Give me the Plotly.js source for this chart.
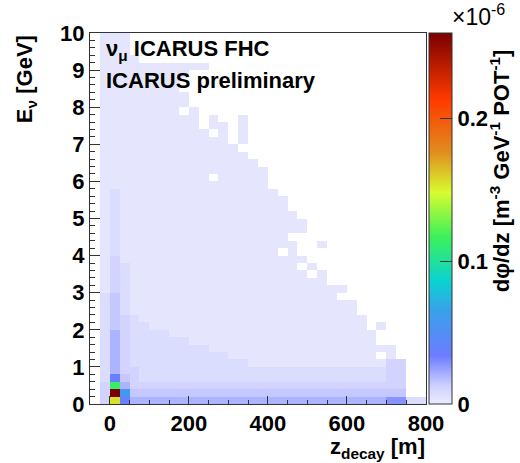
<!DOCTYPE html>
<html>
<head>
<meta charset="utf-8">
<script src="https://cdn.plot.ly/plotly-3.0.1.min.js"></script>
<style>html,body{margin:0;padding:0;background:#fff;}#chart{width:520px;height:463px;}</style>
</head>
<body>
<div id="chart"></div>
<script>
// z_decay bin centres [m] (25 m wide bins)
const zDecayBins = [-12.5, 12.5, 37.5, 62.5, 87.5, 112.5, 137.5, 162.5, 187.5, 212.5, 237.5,
  262.5, 287.5, 312.5, 337.5, 362.5, 387.5, 412.5, 437.5, 462.5, 487.5, 512.5, 537.5,
  562.5, 587.5, 612.5, 637.5, 662.5, 687.5, 712.5, 737.5, 762.5, 787.5];
// E_nu bin centres [GeV] (0.2 GeV wide bins)
const eNuBins = [0.1, 0.3, 0.5, 0.7, 0.9, 1.1, 1.3, 1.5, 1.7, 1.9, 2.1, 2.3, 2.5, 2.7, 2.9,
  3.1, 3.3, 3.5, 3.7, 3.9, 4.1, 4.3, 4.5, 4.7, 4.9, 5.1, 5.3, 5.5, 5.7, 5.9, 6.1, 6.3, 6.5,
  6.7, 6.9, 7.1, 7.3, 7.5, 7.7, 7.9, 8.1, 8.3, 8.5, 8.7, 8.9, 9.1, 9.3, 9.5, 9.7, 9.9];
// colour level codes -> dphi/dz [1e-6 m^-3 GeV^-1 POT^-1]
const levelValues = {'1': 0.003, '2': 0.007, '3': 0.011, '4': 0.015, '5': 0.020,
  '6': 0.028, '7': 0.036, '9': 0.060, 'G': 0.115, 'Y': 0.155, 'R': 0.260};
// one string per E_nu bin, top (9.8-10 GeV) to bottom (0-0.2 GeV); one char per z bin, '.' = empty
const fluxRows = [
  "111",
  "111",
  "111",
  "1111",
  "1111111111"+"1",
  "111111111",
  "11111111",
  "11111111",
  "111111111",
  "111111111",
  "11111111.1",
  "1111111111"+".1..1",
  "1111111111"+".11.1",
  "1111111111"+"1.1.1",
  "1111111111"+"111.1",
  "1111111111"+"1111",
  "1111111111"+"11111",
  "1111111111"+"111111",
  "1111111111"+"1111111",
  "1111111111"+"1.11111",
  "1111111111"+"1111111",
  "1211111111"+"11111111",
  "1211111111"+"111111111",
  "1211111111"+"111111111",
  "1211111111"+"1111111111",
  "1211111111"+"1111111111"+"1",
  "1211111111"+"1111111111"+"1",
  "1211111111"+"111111111",
  "1211111111"+"1111111111"+"..1",
  "1211111111"+"11111111.1",
  "1311111111"+"1111111111"+"1",
  "1321111111"+"1111111111"+".1",
  "1321111111"+"1111111111"+"1.1",
  "1321111111"+"1111111111"+"111",
  "1321111111"+"1111111111"+"11111",
  "2421111111"+"1111111111"+"1111",
  "2421111111"+"1111111111"+"111111",
  "2421111111"+"1111111111"+"111111",
  "2432111111"+"1111111111"+"1111111",
  "2432211111"+"1111111111"+"1111111.1",
  "2532222111"+"1111111111"+"11111111",
  "2532222221"+"1111111111"+"11111111",
  "2532222222"+"2111111111"+"1111111111",
  "2532222222"+"2221111111"+"11111111.1",
  "2532222222"+"2222211111"+"1111111113"+"3",
  "2533222222"+"2222222222"+"2222222223"+"3",
  "2743222222"+"2222222222"+"2222222223"+"3",
  "3G53333333"+"3333333333"+"3333333333"+"3",
  "3R94444444"+"4444444444"+"4444444444"+"4",
  "3Y75555555"+"5555555555"+"5555555556"+"622"
];

const zMatrix = fluxRows.slice().reverse().map(function (row) {
  const r = row.padEnd(zDecayBins.length, '.');
  return r.split('').map(function (c) { return c === '.' ? null : levelValues[c]; });
});

const FONT = 'Liberation Sans, Arial, Helvetica, sans-serif';
const bold = function (size) { return {family: FONT, size: size, color: '#000', weight: 'bold'}; };

const trace = {
  type: 'heatmap',
  x: zDecayBins,
  y: eNuBins,
  z: zMatrix,
  zmin: 0,
  zmax: 0.26,
  zsmooth: false,
  hoverongaps: false,
  colorscale: [
    [0.00, 'rgb(236,236,253)'],
    [0.05, 'rgb(205,208,255)'],
    [0.13, 'rgb(108,124,255)'],
    [0.25, 'rgb(58,160,235)'],
    [0.33, 'rgb(10,210,210)'],
    [0.45, 'rgb(60,240,90)'],
    [0.57, 'rgb(216,252,48)'],
    [0.68, 'rgb(224,140,30)'],
    [0.82, 'rgb(255,58,0)'],
    [1.00, 'rgb(122,0,0)']
  ],
  colorbar: {
    thickness: 23, thicknessmode: 'pixels',
    len: 1, lenmode: 'fraction',
    x: 1.009, xanchor: 'left', xpad: 0,
    y: 0.5, yanchor: 'middle', ypad: 0,
    outlinewidth: 1, outlinecolor: '#333',
    ticks: 'inside', ticklen: 12, tickwidth: 1, tickcolor: '#333',
    tickvals: [0, 0.1, 0.2], ticktext: ['0', '0.1', '0.2'],
    tickfont: bold(22)
  }
};

const layout = {
  width: 520, height: 463,
  margin: {l: 90, r: 94, t: 33, b: 59, pad: 0},
  paper_bgcolor: '#fff', plot_bgcolor: '#fff',
  showlegend: false,
  xaxis: {
    range: [-50, 800], tickmode: 'linear', tick0: 0, dtick: 200,
    ticks: 'inside', ticklen: 8, tickwidth: 1, tickcolor: '#333',
    minor: {tick0: 0, dtick: 50, ticks: 'inside', ticklen: 4, tickwidth: 1, tickcolor: '#333', showgrid: false},
    showline: true, linecolor: '#333', linewidth: 1, mirror: true,
    showgrid: false, zeroline: false, tickfont: bold(22)
  },
  yaxis: {
    range: [0, 10], tickmode: 'linear', tick0: 0, dtick: 1,
    ticks: 'inside', ticklen: 10, tickwidth: 1, tickcolor: '#333',
    minor: {tick0: 0, dtick: 0.2, ticks: 'inside', ticklen: 5, tickwidth: 1, tickcolor: '#333', showgrid: false},
    showline: true, linecolor: '#333', linewidth: 1, mirror: true,
    showgrid: false, zeroline: false, tickfont: bold(22)
  },
  annotations: [
    {text: 'E<sub>ν</sub> [GeV]', xref: 'paper', yref: 'paper', x: -0.19, y: 1.0,
     xanchor: 'center', yanchor: 'top', textangle: -90, showarrow: false, font: bold(22)},
    {text: 'z<sub>decay</sub> [m]', xref: 'paper', yref: 'paper', x: 1.0, y: -0.16,
     xanchor: 'right', yanchor: 'bottom', borderpad: 0, showarrow: false, font: bold(22)},
    {text: 'ν<sub>μ</sub> ICARUS FHC', xref: 'paper', yref: 'paper', x: 0.042, y: 0.955,
     xanchor: 'left', yanchor: 'middle', showarrow: false, font: bold(22)},
    {text: 'ICARUS preliminary', xref: 'paper', yref: 'paper', x: 0.042, y: 0.872,
     xanchor: 'left', yanchor: 'middle', showarrow: false, font: bold(22)},
    {text: '×10<sup>-6</sup>', xref: 'paper', yref: 'paper', x: 1.241, y: 1.048,
     xanchor: 'right', yanchor: 'middle', showarrow: false, font: {family: FONT, size: 23, color: '#000'}},
    {text: 'dφ/dz [m<sup>-3</sup> GeV<sup>-1</sup> POT<sup>-1</sup>]', xref: 'paper', yref: 'paper',
     x: 1.22, y: 0.63, xanchor: 'center', yanchor: 'middle', textangle: -90, showarrow: false, font: bold(22)}
  ]
};

Plotly.newPlot('chart', [trace], layout, {displayModeBar: false, staticPlot: true});
</script>
</body>
</html>
